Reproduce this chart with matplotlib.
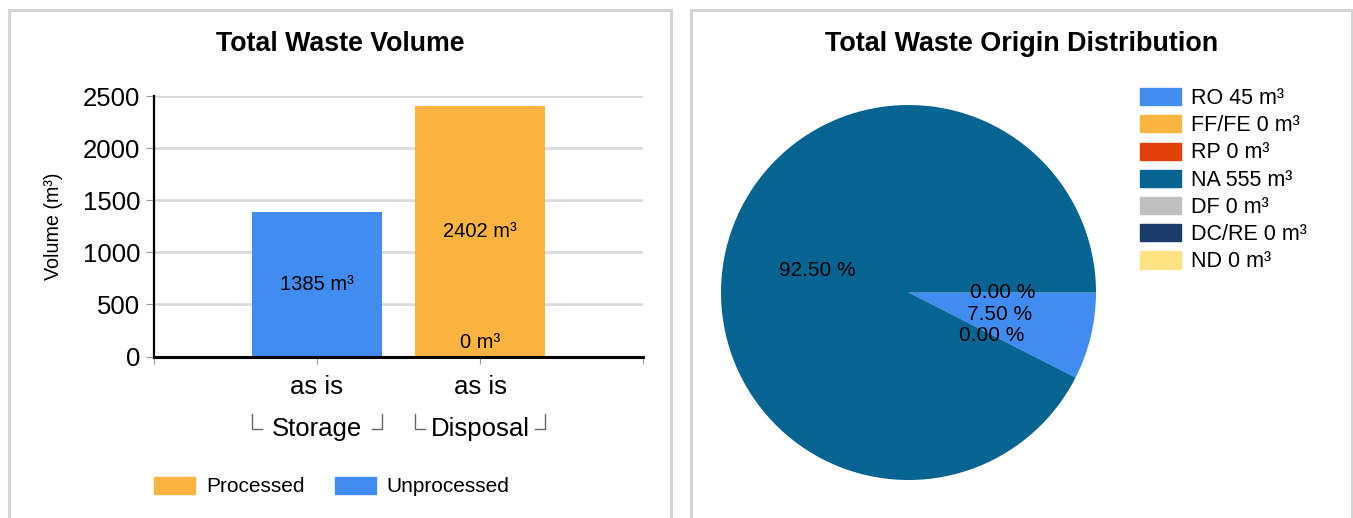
import numpy as np
import matplotlib
matplotlib.use('Agg')
import matplotlib.pyplot as plt
from matplotlib.patches import Rectangle, Patch
from matplotlib.lines import Line2D
from matplotlib.transforms import blended_transform_factory

plt.rcParams['font.family'] = ['Liberation Sans', 'DejaVu Sans']

# bar chart data
groups = ['Storage', 'Disposal']
sublabels = ['as is', 'as is']
processed = [np.nan, 2402]
unprocessed = [1385, 0]

# pie chart data
origins = ['RO', 'FF/FE', 'RP', 'NA', 'DF', 'DC/RE', 'ND']
origin_vol = [45, 0, 0, 555, 0, 0, 0]
origin_colors = ['#418CF0', '#FCB441', '#E0400A', '#056492', '#BFBFBF', '#1A3B69', '#FFE382']

c_proc = '#FCB441'
c_unproc = '#418CF0'

W, H = 1353, 518
fig = plt.figure(figsize=(W / 100, H / 100), dpi=100)


def fx(px):
    return px / W


def fy(py):
    return 1 - py / H


# panel borders
for x0, x1 in [(9, 670.5), (691.3, 1352)]:
    fig.add_artist(Rectangle((fx(x0), fy(540)), fx(x1 - x0), (540 - 10) / H,
                             transform=fig.transFigure, fill=False,
                             ec='#D4D4D4', lw=2.2))

fig.text(fx(340), fy(44), 'Total Waste Volume', ha='center', va='center',
         fontsize=19.3, fontweight='bold')
fig.text(fx(1022), fy(44), 'Total Waste Origin Distribution', ha='center',
         va='center', fontsize=19.4, fontweight='bold')

# ---- bar chart ----
ax = fig.add_axes([fx(154), fy(356.5), fx(643 - 154), (356.5 - 96) / H])
x = np.arange(len(groups))
unp = np.array(unprocessed, dtype=float)
pro = np.array(processed, dtype=float)
ax.bar(x, unp, width=0.8, color=c_unproc, zorder=2)
ax.bar(x, pro, width=0.8, bottom=unp, color=c_proc, zorder=2)

for i in range(len(groups)):
    base = 0
    for v in [unp[i], pro[i]]:
        if np.isnan(v):
            continue
        if v == 0:
            ax.annotate('%d m³' % v, (x[i], base), xytext=(0, 3),
                        textcoords='offset points', ha='center', va='bottom',
                        fontsize=14.5, zorder=3)
        else:
            ax.text(x[i], base + v / 2, '%d m³' % v, ha='center', va='center',
                    fontsize=14.5, zorder=3)
        base += v

ax.set_xlim(-1, 2)
ax.set_ylim(0, 2500)
ax.set_yticks([0, 500, 1000, 1500, 2000, 2500])
ax.set_xticks([-1, 0, 1, 2])
ax.set_xticklabels([''] + sublabels + [''])
ax.tick_params(axis='y', labelsize=18.5, length=6, color='#999999', pad=4)
ax.tick_params(axis='x', labelsize=18.5, length=5, color='#999999', pad=8)
ax.yaxis.grid(True, color='#DADADA', lw=2, zorder=0)
ax.set_axisbelow(True)
for s in ['top', 'right']:
    ax.spines[s].set_visible(False)
ax.spines['left'].set_linewidth(1.6)
ax.spines['bottom'].set_linewidth(2.2)
ax.set_ylabel('Volume (m³)', fontsize=14.2, labelpad=14)

# group labels with brackets
tr = blended_transform_factory(ax.transData, fig.transFigure)
for i, g in enumerate(groups):
    ax.text(x[i], fy(429), g, transform=tr, ha='center', va='center',
            fontsize=18.5, clip_on=False)
    l, r = x[i] - 0.4, x[i] + 0.4
    for xs, ys in [([l, l, l + 0.065], [fy(414), fy(429), fy(429)]),
                   ([r - 0.065, r, r], [fy(429), fy(429), fy(414)])]:
        ax.add_line(Line2D(xs, ys, transform=tr, color='#666666', lw=1,
                           clip_on=False))

fig.legend(handles=[Patch(color=c_proc, label='Processed'),
                    Patch(color=c_unproc, label='Unprocessed')],
           loc='center left', bbox_to_anchor=(fx(154), fy(486.5)), ncol=2,
           frameon=False, fontsize=15, handlelength=1.97, handleheight=0.91,
           handletextpad=0.53, columnspacing=1.44, borderpad=0,
           borderaxespad=0)

# ---- pie chart ----
pax = fig.add_axes([fx(721), fy(480), fx(375), 375 / H])
wedges, texts, autotexts = pax.pie(
    origin_vol, colors=origin_colors, startangle=0, counterclock=False,
    autopct='%.2f %%', pctdistance=0.5, radius=1,
    wedgeprops=dict(linewidth=0), textprops=dict(fontsize=15))
# labels of empty slices that fall on the same spot are drawn only once
seen = set()
for t in autotexts:
    pos = tuple(np.round(t.get_position(), 3))
    if pos in seen:
        t.set_visible(False)
    seen.add(pos)
pax.set_xlim(-1, 1)
pax.set_ylim(-1, 1)
pax.set_aspect('equal')

fig.legend(handles=[Patch(color=c, label='%s %d m³' % (n, v))
                    for n, v, c in zip(origins, origin_vol, origin_colors)],
           loc='upper left', bbox_to_anchor=(fx(1140), fy(88)),
           frameon=False, fontsize=15.5, handlelength=1.9, handleheight=0.84,
           handletextpad=0.47, labelspacing=0.29, borderpad=0,
           borderaxespad=0)

fig.savefig('out.png', dpi=100)
